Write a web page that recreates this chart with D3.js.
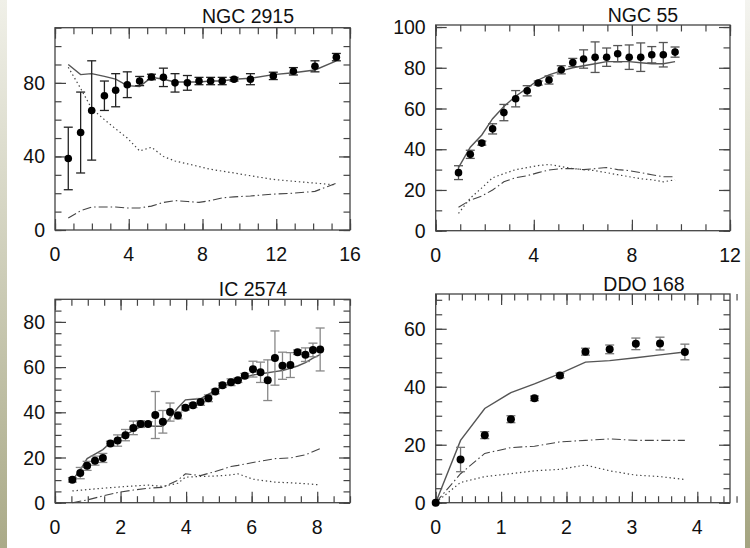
<!DOCTYPE html>
<html>
<head>
<meta charset="utf-8">
<script src="https://cdn.jsdelivr.net/npm/d3@7"></script>
<style>
  body { margin: 0; background: #fff; }
  svg { display: block; font-family: "Liberation Sans", Arial, sans-serif; }
</style>
</head>
<body>
<svg id="canvas" width="750" height="548"></svg>
<script>
// NGC 2915
const n2915R = [0.72, 1.39, 1.99, 2.68, 3.29, 3.92, 4.59, 5.23, 5.88, 6.51, 7.18, 7.81, 8.44, 9.07, 9.71, 10.6, 11.84, 12.93, 14.1, 15.26];
const n2915V = [38.9, 53, 65, 73, 76, 79, 81, 83.2, 83, 80, 80, 81, 81, 81, 82, 82, 83.8, 86.3, 89, 94];
const n2915E = [17, 22, 27, 8, 9, 7, 2.5, 1.5, 5, 5, 4, 2, 2, 2, 1, 3, 2, 2, 3, 2];
const n2915Total = [90, 84.5, 85, 83.5, 82, 78.5, 78, 83, 82, 80.5, 80.5, 80.5, 81, 81, 82, 82.5, 84.5, 85.5, 87, 92];
const n2915Dotted = [88.5, 77, 66, 60, 55, 50, 43, 45, 40, 37.5, 36, 34.5, 33, 32, 31, 29.5, 27.5, 26.5, 25.5, 24.5];
const n2915Dash = [6.5, 10.5, 12.5, 12.5, 12.5, 12, 12, 13, 15, 16, 15.5, 15, 16, 17.5, 18, 18.5, 19.5, 20, 21, 25.5];

// NGC 55
const n55R = [0.93, 1.41, 1.88, 2.32, 2.78, 3.26, 3.73, 4.18, 4.62, 5.12, 5.59, 6.03, 6.5, 6.97, 7.42, 7.89, 8.36, 8.81, 9.28, 9.76];
const n55V = [28.5, 37.5, 43, 50, 58, 64.8, 68.7, 72.5, 74, 79, 82.6, 84.3, 85.2, 85.2, 86.9, 85.2, 85.2, 86.4, 86.4, 87.7];
const n55E = [3.4, 2, 1, 2.5, 4, 4, 2.5, 1, 2, 2, 2, 4.5, 7.5, 4.5, 4, 6, 7, 4, 6, 2.5];
const n55Total = [31, 41, 47, 55, 61, 66, 70, 74, 76.5, 78.5, 80, 81, 82, 83, 83, 83, 82.5, 82, 82, 83];
const n55Dotted = [8.5, 16, 21, 26, 28, 30, 31, 32, 32.5, 31.5, 30.5, 30, 29.5, 28.5, 27.5, 26.5, 25.5, 25, 24, 25];
const n55DashDot = [11.5, 15, 17, 20, 24, 26, 27, 28.5, 29.8, 30.5, 30.5, 30, 30.5, 31, 30, 29.5, 28.5, 27.5, 26.5, 26.5];

// IC 2574
const icR = [0.53, 0.77, 0.98, 1.22, 1.46, 1.69, 1.91, 2.15, 2.39, 2.61, 2.84, 3.06, 3.29, 3.51, 3.75, 3.98, 4.21, 4.44, 4.68, 4.89, 5.11, 5.37, 5.58, 5.79, 6.04, 6.27, 6.49, 6.71, 6.94, 7.18, 7.4, 7.64, 7.87, 8.09];
const icV = [10.1, 13.1, 16.3, 18.6, 19.8, 26.2, 27.5, 29.9, 33.1, 34.8, 34.8, 38.8, 35.8, 40.1, 38.6, 42, 43.1, 44.6, 46.2, 49.2, 52, 53.3, 54.2, 56.2, 59.1, 57.7, 54.2, 64, 60.6, 60.9, 66.6, 65.5, 67.6, 67.8];
const icE = [1, 2.5, 2, 2, 2, 1, 2.5, 2.5, 3, 1.5, 1, 10.4, 5, 4, 1.5, 1, 1, 1.5, 1.5, 1, 1, 1.5, 1, 1, 3.5, 4.5, 9, 12, 6, 5.5, 1, 3, 3, 9.5];
const icTotal = [10, 14.5, 19.5, 21.5, 23.5, 26.5, 28, 30, 32, 33.5, 34, 33.8, 33.8, 37.5, 42, 45.5, 45.8, 46, 48, 49.5, 51.5, 53, 54, 55.5, 56.5, 57, 57.5, 58, 58.5, 59.5, 60.5, 62, 64, 65.5];
const icModelR = [0.53, 0.98, 1.46, 1.91, 2.39, 2.84, 3.29, 3.75, 3.98, 4.44, 4.89, 5.37, 5.58, 6.04, 6.71, 7.18, 7.64, 8.09];
const icDashDot = [0, 1.2, 3, 4.5, 5.6, 6.4, 6.8, 10, 12.8, 12, 13.8, 16, 16.5, 17.8, 19.5, 19.8, 21.2, 23.9];
const icDotted = [5.2, 5.8, 6.4, 6.9, 7.4, 7.8, 7.2, 8.6, 11.3, 11.6, 11.8, 12.3, 12.8, 10.4, 9.1, 8.8, 8.4, 7.9];

// DDO 168
const ddoR = [0, 0.38, 0.75, 1.15, 1.51, 1.9, 2.29, 2.66, 3.06, 3.43, 3.81];
const ddoV = [0, 14.9, 23.3, 28.8, 36, 43.9, 52.1, 52.9, 54.8, 54.9, 52];
const ddoE = [0, 4.2, 1.2, 1.2, 0.8, 0.8, 1.2, 1.5, 2, 2.2, 2.7];
const ddoTotal = [0, 21.5, 32.5, 38, 41, 44.5, 48.5, 49, 50, 51, 52];
const ddoDashDot = [0, 10, 17, 19, 19.5, 21, 21.5, 22, 21.5, 21.5, 21.5];
const ddoDotted = [0, 7, 9, 10, 11, 11.5, 13, 11, 9.5, 9, 8];

const canvas = d3.select('#canvas');
const fontSize = 19.5;

// slide background bands
const defs = canvas.append('defs');
const leftGrad = defs.append('linearGradient').attr('id', 'leftBand')
  .attr('x1', 0).attr('y1', 0).attr('x2', 0).attr('y2', 1);
leftGrad.append('stop').attr('offset', '0%').attr('stop-color', '#f0f0e8');
leftGrad.append('stop').attr('offset', '100%').attr('stop-color', '#aaaa88');
const rightGrad = defs.append('linearGradient').attr('id', 'rightBand')
  .attr('x1', 0).attr('y1', 0).attr('x2', 0).attr('y2', 1);
rightGrad.append('stop').attr('offset', '0%').attr('stop-color', '#f4f4f0');
rightGrad.append('stop').attr('offset', '35%').attr('stop-color', '#dcdcc8');
rightGrad.append('stop').attr('offset', '100%').attr('stop-color', '#a4a480');
canvas.append('rect').attr('width', 750).attr('height', 548).attr('fill', '#fff');
canvas.append('rect').attr('x', 0).attr('width', 7).attr('height', 548).attr('fill', 'url(#leftBand)');
canvas.append('rect').attr('x', 745).attr('width', 5).attr('height', 548).attr('fill', 'url(#rightBand)');

function drawPanel(p) {
  const g = canvas.append('g');
  const x = d3.scaleLinear().domain(p.xDomain).range([p.left, p.right]);
  const y = d3.scaleLinear().domain(p.yDomain).range([p.bottom, p.top]);
  const w = p.right - p.left;
  const h = p.bottom - p.top;

  const tickSet = (axisFn, scale, values, len, tx, ty) => {
    g.append('g')
      .attr('transform', `translate(${tx}, ${ty})`)
      .call(axisFn(scale).tickValues(values).tickSize(-len).tickSizeOuter(0).tickFormat(''))
      .call((a) => a.select('.domain').remove())
      .call((a) => a.selectAll('line').attr('stroke', '#444').attr('stroke-width', 1.2));
  };

  const xMinor = d3.range(0, Math.round(p.xDomain[1] / p.xStep) + 1).map((i) => i * p.xStep);
  const yMinor = d3.range(0, Math.round(p.yDomain[1] / p.yStep) + 1).map((i) => i * p.yStep);
  [[d3.axisBottom, 0, h], [d3.axisTop, 0, 0]].forEach(([fn, tx, ty]) => {
    tickSet(fn, x, xMinor, 6.5, tx, p.top + ty);
    tickSet(fn, x, p.xTicks, 11, tx, p.top + ty);
  });
  [[d3.axisLeft, 0], [d3.axisRight, w]].forEach(([fn, tx]) => {
    tickSet(fn, y, yMinor, 6.5, p.left + tx, 0);
    tickSet(fn, y, p.yTicks, 11, p.left + tx, 0);
  });

  g.append('rect')
    .attr('x', p.left).attr('y', p.top)
    .attr('width', w).attr('height', h)
    .attr('fill', 'none').attr('stroke', '#444').attr('stroke-width', 1.3);

  g.selectAll('.xl').data(p.xTicks).enter().append('text')
    .attr('x', (d) => x(d)).attr('y', p.bottom + 31)
    .attr('text-anchor', 'middle').attr('font-size', fontSize).attr('fill', '#111')
    .text((d) => d);
  g.selectAll('.yl').data(p.yTicks).enter().append('text')
    .attr('x', p.left - 10).attr('y', (d) => y(d)).attr('dy', '0.36em')
    .attr('text-anchor', 'end').attr('font-size', fontSize).attr('fill', '#111')
    .text((d) => d);
  g.append('text')
    .attr('x', p.titleX).attr('y', p.titleY)
    .attr('text-anchor', 'middle').attr('font-size', fontSize).attr('fill', '#111')
    .text(p.title);

  // model curves
  p.lines.forEach((ln) => {
    const pts = ln.r.map((r, i) => [r, ln.v[i]]);
    g.append('path')
      .attr('d', d3.line().x((d) => x(d[0])).y((d) => y(d[1]))(pts))
      .attr('fill', 'none')
      .attr('stroke', ln.color)
      .attr('stroke-width', ln.width)
      .attr('stroke-dasharray', ln.dash);
  });

  // observed points with error bars
  const pts = p.r.map((r, i) => ({ r, v: p.v[i], e: p.e[i] }));
  const bars = g.selectAll('.err').data(pts.filter((d) => d.e > 0)).enter().append('g')
    .attr('stroke', p.errColor).attr('stroke-width', 1.3);
  bars.append('line')
    .attr('x1', (d) => x(d.r)).attr('x2', (d) => x(d.r))
    .attr('y1', (d) => y(d.v - d.e)).attr('y2', (d) => y(d.v + d.e));
  bars.append('line')
    .attr('x1', (d) => x(d.r) - 4.5).attr('x2', (d) => x(d.r) + 4.5)
    .attr('y1', (d) => y(d.v + d.e)).attr('y2', (d) => y(d.v + d.e));
  bars.append('line')
    .attr('x1', (d) => x(d.r) - 4.5).attr('x2', (d) => x(d.r) + 4.5)
    .attr('y1', (d) => y(d.v - d.e)).attr('y2', (d) => y(d.v - d.e));
  g.selectAll('.dot').data(pts).enter().append('circle')
    .attr('cx', (d) => x(d.r)).attr('cy', (d) => y(d.v))
    .attr('r', p.dotR).attr('fill', '#000');
}

const solid = (r, v) => ({ r, v, color: '#555', width: 1.4, dash: null });
const dotted = (r, v) => ({ r, v, color: '#444', width: 1.2, dash: '1.4,2.8' });
const dashDot = (r, v) => ({ r, v, color: '#444', width: 1.1, dash: '9,3,1.5,3' });

drawPanel({
  title: 'NGC 2915', titleX: 248, titleY: 23,
  left: 55, right: 350, top: 27.7, bottom: 230,
  xDomain: [0, 16], yDomain: [0, 110], xStep: 1, yStep: 10,
  xTicks: [0, 4, 8, 12, 16], yTicks: [0, 40, 80],
  r: n2915R, v: n2915V, e: n2915E, errColor: '#222', dotR: 3.8,
  lines: [solid(n2915R, n2915Total), dotted(n2915R, n2915Dotted), dashDot(n2915R, n2915Dash)],
});
drawPanel({
  title: 'NGC 55', titleX: 643, titleY: 22,
  left: 435.7, right: 730, top: 25, bottom: 230.7,
  xDomain: [0, 12], yDomain: [0, 101], xStep: 1, yStep: 10,
  xTicks: [0, 4, 8, 12], yTicks: [0, 20, 40, 60, 80, 100],
  r: n55R, v: n55V, e: n55E, errColor: '#555', dotR: 3.8,
  lines: [solid(n55R, n55Total), dotted(n55R, n55Dotted), dashDot(n55R, n55DashDot)],
});
drawPanel({
  title: 'IC 2574', titleX: 253, titleY: 296,
  left: 55, right: 350, top: 299.3, bottom: 502.7,
  xDomain: [0, 9], yDomain: [0, 90], xStep: 0.5, yStep: 5,
  xTicks: [0, 2, 4, 6, 8], yTicks: [0, 20, 40, 60, 80],
  r: icR, v: icV, e: icE, errColor: '#888', dotR: 4,
  lines: [solid(icR, icTotal), dotted(icModelR, icDotted), dashDot(icModelR, icDashDot)],
});
drawPanel({
  title: 'DDO 168', titleX: 644, titleY: 291,
  left: 435.7, right: 730, top: 294, bottom: 502.7,
  xDomain: [0, 4.5], yDomain: [0, 72], xStep: 0.2, yStep: 5,
  xTicks: [0, 1, 2, 3, 4], yTicks: [0, 20, 40, 60],
  r: ddoR, v: ddoV, e: ddoE, errColor: '#777', dotR: 4,
  lines: [solid(ddoR, ddoTotal), dotted(ddoR, ddoDotted), dashDot(ddoR, ddoDashDot)],
});
</script>
</body>
</html>
